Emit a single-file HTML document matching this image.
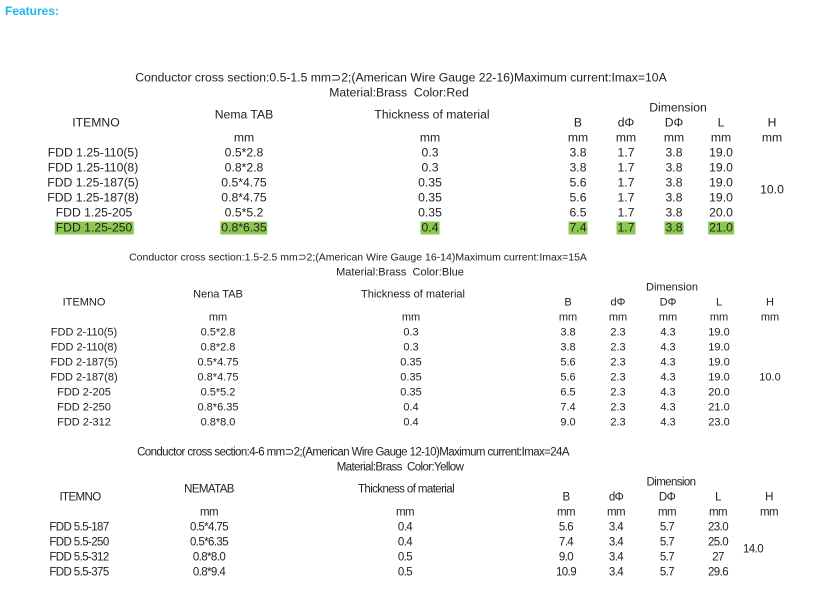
<!DOCTYPE html>
<html><head><meta charset="utf-8"><style>
html,body{margin:0;padding:0;background:#fff;width:813px;height:601px;overflow:hidden;position:relative}
.w{position:absolute;left:0;top:1.5px;width:813px;height:601px}
.t{position:absolute;transform:translate(-50%,-50%);white-space:nowrap;font-family:"Liberation Sans",sans-serif;font-size:11.5px;color:#222;line-height:13px}
.a{font-size:12.2px}
.b{font-size:11px}
.bt{font-size:10.5px}
.c{letter-spacing:-0.6px;font-size:11.5px}
.g{background:#8cc84f;padding:0 1px}
h1{position:absolute;left:5px;top:4px;margin:0;font:bold 12px "Liberation Sans",sans-serif;color:#1fb6ea}
</style></head><body>
<h1>Features:</h1>
<div class="w">
<!-- Section 1 -->
<div class="t a" style="left:401px;top:76px">Conductor cross section:0.5-1.5 mm⊃2;(American Wire Gauge 22-16)Maximum current:Imax=10A</div>
<div class="t a" style="left:399px;top:91px">Material:Brass&nbsp; Color:Red</div>
<div class="t a" style="left:678px;top:106px">Dimension</div>
<div class="t a" style="left:96px;top:121px">ITEMNO</div>
<div class="t a" style="left:244px;top:113px">Nema TAB</div>
<div class="t a" style="left:432px;top:113px">Thickness of material</div>
<div class="t a" style="left:578px;top:121px">B</div><div class="t a" style="left:626px;top:121px">dΦ</div><div class="t a" style="left:674px;top:121px">DΦ</div><div class="t a" style="left:721px;top:121px">L</div><div class="t a" style="left:772px;top:121px">H</div>
<div class="t a" style="left:244px;top:136px">mm</div><div class="t a" style="left:430px;top:136px">mm</div><div class="t a" style="left:578px;top:136px">mm</div><div class="t a" style="left:626px;top:136px">mm</div><div class="t a" style="left:674px;top:136px">mm</div><div class="t a" style="left:721px;top:136px">mm</div><div class="t a" style="left:772px;top:136px">mm</div>
<div class="t a" style="left:93px;top:151px">FDD 1.25-110(5)</div><div class="t a" style="left:244px;top:151px">0.5*2.8</div><div class="t a" style="left:430px;top:151px">0.3</div><div class="t a" style="left:578px;top:151px">3.8</div><div class="t a" style="left:626px;top:151px">1.7</div><div class="t a" style="left:674px;top:151px">3.8</div><div class="t a" style="left:721px;top:151px">19.0</div>
<div class="t a" style="left:93px;top:166px">FDD 1.25-110(8)</div><div class="t a" style="left:244px;top:166px">0.8*2.8</div><div class="t a" style="left:430px;top:166px">0.3</div><div class="t a" style="left:578px;top:166px">3.8</div><div class="t a" style="left:626px;top:166px">1.7</div><div class="t a" style="left:674px;top:166px">3.8</div><div class="t a" style="left:721px;top:166px">19.0</div>
<div class="t a" style="left:93px;top:181px">FDD 1.25-187(5)</div><div class="t a" style="left:244px;top:181px">0.5*4.75</div><div class="t a" style="left:430px;top:181px">0.35</div><div class="t a" style="left:578px;top:181px">5.6</div><div class="t a" style="left:626px;top:181px">1.7</div><div class="t a" style="left:674px;top:181px">3.8</div><div class="t a" style="left:721px;top:181px">19.0</div>
<div class="t a" style="left:93px;top:196px">FDD 1.25-187(8)</div><div class="t a" style="left:244px;top:196px">0.8*4.75</div><div class="t a" style="left:430px;top:196px">0.35</div><div class="t a" style="left:578px;top:196px">5.6</div><div class="t a" style="left:626px;top:196px">1.7</div><div class="t a" style="left:674px;top:196px">3.8</div><div class="t a" style="left:721px;top:196px">19.0</div>
<div class="t a" style="left:94px;top:211px">FDD 1.25-205</div><div class="t a" style="left:244px;top:211px">0.5*5.2</div><div class="t a" style="left:430px;top:211px">0.35</div><div class="t a" style="left:578px;top:211px">6.5</div><div class="t a" style="left:626px;top:211px">1.7</div><div class="t a" style="left:674px;top:211px">3.8</div><div class="t a" style="left:721px;top:211px">20.0</div>
<div class="t a g" style="left:94px;top:226px">FDD 1.25-250</div><div class="t a g" style="left:244px;top:226px">0.8*6.35</div><div class="t a g" style="left:430px;top:226px">0.4</div><div class="t a g" style="left:578px;top:226px">7.4</div><div class="t a g" style="left:626px;top:226px">1.7</div><div class="t a g" style="left:674px;top:226px">3.8</div><div class="t a g" style="left:721px;top:226px">21.0</div>
<div class="t a" style="left:772px;top:188px">10.0</div>

<!-- Section 2 -->
<div class="t bt" style="left:358px;top:256px">Conductor cross section:1.5-2.5 mm⊃2;(American Wire Gauge 16-14)Maximum current:Imax=15A</div>
<div class="t b" style="left:400px;top:271px">Material:Brass&nbsp; Color:Blue</div>
<div class="t b" style="left:672px;top:286px">Dimension</div>
<div class="t b" style="left:84px;top:301px">ITEMNO</div>
<div class="t b" style="left:218px;top:293px">Nena TAB</div>
<div class="t b" style="left:413px;top:293px">Thickness of material</div>
<div class="t b" style="left:568px;top:301px">B</div><div class="t b" style="left:618px;top:301px">dΦ</div><div class="t b" style="left:668px;top:301px">DΦ</div><div class="t b" style="left:719px;top:301px">L</div><div class="t b" style="left:770px;top:301px">H</div>
<div class="t b" style="left:218px;top:316px">mm</div><div class="t b" style="left:411px;top:316px">mm</div><div class="t b" style="left:568px;top:316px">mm</div><div class="t b" style="left:618px;top:316px">mm</div><div class="t b" style="left:668px;top:316px">mm</div><div class="t b" style="left:719px;top:316px">mm</div><div class="t b" style="left:770px;top:316px">mm</div>
<div class="t b" style="left:84px;top:331px">FDD 2-110(5)</div><div class="t b" style="left:218px;top:331px">0.5*2.8</div><div class="t b" style="left:411px;top:331px">0.3</div><div class="t b" style="left:568px;top:331px">3.8</div><div class="t b" style="left:618px;top:331px">2.3</div><div class="t b" style="left:668px;top:331px">4.3</div><div class="t b" style="left:719px;top:331px">19.0</div>
<div class="t b" style="left:84px;top:346px">FDD 2-110(8)</div><div class="t b" style="left:218px;top:346px">0.8*2.8</div><div class="t b" style="left:411px;top:346px">0.3</div><div class="t b" style="left:568px;top:346px">3.8</div><div class="t b" style="left:618px;top:346px">2.3</div><div class="t b" style="left:668px;top:346px">4.3</div><div class="t b" style="left:719px;top:346px">19.0</div>
<div class="t b" style="left:84px;top:361px">FDD 2-187(5)</div><div class="t b" style="left:218px;top:361px">0.5*4.75</div><div class="t b" style="left:411px;top:361px">0.35</div><div class="t b" style="left:568px;top:361px">5.6</div><div class="t b" style="left:618px;top:361px">2.3</div><div class="t b" style="left:668px;top:361px">4.3</div><div class="t b" style="left:719px;top:361px">19.0</div>
<div class="t b" style="left:84px;top:376px">FDD 2-187(8)</div><div class="t b" style="left:218px;top:376px">0.8*4.75</div><div class="t b" style="left:411px;top:376px">0.35</div><div class="t b" style="left:568px;top:376px">5.6</div><div class="t b" style="left:618px;top:376px">2.3</div><div class="t b" style="left:668px;top:376px">4.3</div><div class="t b" style="left:719px;top:376px">19.0</div>
<div class="t b" style="left:84px;top:391px">FDD 2-205</div><div class="t b" style="left:218px;top:391px">0.5*5.2</div><div class="t b" style="left:411px;top:391px">0.35</div><div class="t b" style="left:568px;top:391px">6.5</div><div class="t b" style="left:618px;top:391px">2.3</div><div class="t b" style="left:668px;top:391px">4.3</div><div class="t b" style="left:719px;top:391px">20.0</div>
<div class="t b" style="left:84px;top:406px">FDD 2-250</div><div class="t b" style="left:218px;top:406px">0.8*6.35</div><div class="t b" style="left:411px;top:406px">0.4</div><div class="t b" style="left:568px;top:406px">7.4</div><div class="t b" style="left:618px;top:406px">2.3</div><div class="t b" style="left:668px;top:406px">4.3</div><div class="t b" style="left:719px;top:406px">21.0</div>
<div class="t b" style="left:84px;top:421px">FDD 2-312</div><div class="t b" style="left:218px;top:421px">0.8*8.0</div><div class="t b" style="left:411px;top:421px">0.4</div><div class="t b" style="left:568px;top:421px">9.0</div><div class="t b" style="left:618px;top:421px">2.3</div><div class="t b" style="left:668px;top:421px">4.3</div><div class="t b" style="left:719px;top:421px">23.0</div>
<div class="t b" style="left:770px;top:376px">10.0</div>

<!-- Section 3 -->
<div class="t c" style="left:353px;top:451px">Conductor cross section:4-6 mm⊃2;(American Wire Gauge 12-10)Maximum current:Imax=24A</div>
<div class="t c" style="left:400px;top:466px">Material:Brass&nbsp; Color:Yellow</div>
<div class="t c" style="left:671px;top:481px">Dimension</div>
<div class="t c" style="left:80px;top:496px">ITEMNO</div>
<div class="t c" style="left:209px;top:488px">NEMATAB</div>
<div class="t c" style="left:406px;top:488px">Thickness of material</div>
<div class="t c" style="left:566px;top:496px">B</div><div class="t c" style="left:616px;top:496px">dΦ</div><div class="t c" style="left:667px;top:496px">DΦ</div><div class="t c" style="left:718px;top:496px">L</div><div class="t c" style="left:769px;top:496px">H</div>
<div class="t c" style="left:209px;top:511px">mm</div><div class="t c" style="left:405px;top:511px">mm</div><div class="t c" style="left:566px;top:511px">mm</div><div class="t c" style="left:616px;top:511px">mm</div><div class="t c" style="left:667px;top:511px">mm</div><div class="t c" style="left:718px;top:511px">mm</div><div class="t c" style="left:769px;top:511px">mm</div>
<div class="t c" style="left:79px;top:526px">FDD 5.5-187</div><div class="t c" style="left:209px;top:526px">0.5*4.75</div><div class="t c" style="left:405px;top:526px">0.4</div><div class="t c" style="left:566px;top:526px">5.6</div><div class="t c" style="left:616px;top:526px">3.4</div><div class="t c" style="left:667px;top:526px">5.7</div><div class="t c" style="left:718px;top:526px">23.0</div>
<div class="t c" style="left:79px;top:541px">FDD 5.5-250</div><div class="t c" style="left:209px;top:541px">0.5*6.35</div><div class="t c" style="left:405px;top:541px">0.4</div><div class="t c" style="left:566px;top:541px">7.4</div><div class="t c" style="left:616px;top:541px">3.4</div><div class="t c" style="left:667px;top:541px">5.7</div><div class="t c" style="left:718px;top:541px">25.0</div>
<div class="t c" style="left:79px;top:556px">FDD 5.5-312</div><div class="t c" style="left:209px;top:556px">0.8*8.0</div><div class="t c" style="left:405px;top:556px">0.5</div><div class="t c" style="left:566px;top:556px">9.0</div><div class="t c" style="left:616px;top:556px">3.4</div><div class="t c" style="left:667px;top:556px">5.7</div><div class="t c" style="left:718px;top:556px">27</div>
<div class="t c" style="left:79px;top:571px">FDD 5.5-375</div><div class="t c" style="left:209px;top:571px">0.8*9.4</div><div class="t c" style="left:405px;top:571px">0.5</div><div class="t c" style="left:566px;top:571px">10.9</div><div class="t c" style="left:616px;top:571px">3.4</div><div class="t c" style="left:667px;top:571px">5.7</div><div class="t c" style="left:718px;top:571px">29.6</div>
<div class="t c" style="left:753px;top:548px">14.0</div>
</div>
</body></html>
